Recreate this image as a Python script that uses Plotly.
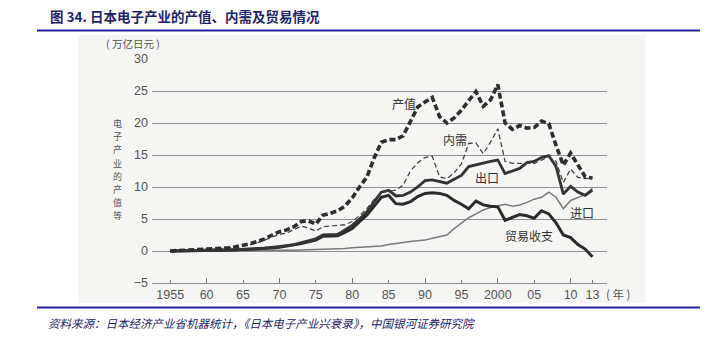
import plotly.graph_objects as go

years = list(range(1955, 2014))

production = [0.0, 0.05, 0.1, 0.15, 0.2, 0.25, 0.3, 0.4, 0.5, 0.65,
              0.85, 1.15, 1.5, 1.9, 2.5, 3.0, 3.3, 3.8, 4.6, 4.7,
              4.2, 5.6, 5.9, 6.3, 7.0, 8.3, 10.0, 11.5, 14.5, 17.0,
              17.4, 17.4, 18.0, 20.2, 22.5, 23.3, 24.0, 21.0, 20.0, 20.8,
              22.0, 23.5, 24.9, 22.6, 23.6, 26.0, 20.0, 19.0, 19.6, 19.2,
              19.3, 20.3, 19.9, 16.5, 13.4, 15.3, 13.5, 11.6, 11.4]

domestic = [0.0, 0.05, 0.1, 0.15, 0.2, 0.25, 0.3, 0.35, 0.45, 0.6,
            0.75, 1.0, 1.3, 1.7, 2.2, 2.6, 2.8, 3.3, 3.9, 3.6,
            3.1, 3.8, 3.9, 4.0, 4.1, 4.6, 5.5, 6.6, 8.0, 9.2,
            9.4, 9.5, 10.3, 12.5, 13.8, 14.6, 14.8, 11.6, 11.3, 12.2,
            13.6, 16.8, 16.9, 15.2, 17.0, 19.1, 14.0, 13.7, 13.7, 13.7,
            13.7, 14.2, 14.7, 14.0, 10.7, 12.8, 11.5, 11.3, 11.4]

exports = [0.0, 0.0, 0.02, 0.03, 0.05, 0.07, 0.1, 0.12, 0.15, 0.2,
           0.25, 0.3, 0.35, 0.45, 0.55, 0.7, 0.85, 1.0, 1.3, 1.6,
           1.9, 2.5, 2.5, 2.6, 3.3, 4.0, 5.0, 6.1, 7.7, 9.2,
           9.5, 8.6, 8.7, 9.2, 10.0, 11.0, 11.1, 10.8, 10.6, 11.2,
           11.8, 13.2, 13.5, 13.7, 14.0, 14.2, 12.1, 12.5, 12.9, 13.8,
           14.0, 14.6, 14.9, 13.2, 8.9, 10.1, 9.2, 8.7, 9.5]

imports = [0.0, 0.0, 0.0, 0.0, 0.01, 0.02, 0.02, 0.03, 0.03, 0.04,
           0.05, 0.05, 0.06, 0.07, 0.08, 0.1, 0.1, 0.12, 0.15, 0.17,
           0.2, 0.22, 0.25, 0.3, 0.4, 0.5, 0.55, 0.6, 0.7, 0.8,
           1.0, 1.2, 1.4, 1.5, 1.6, 1.7, 2.0, 2.2, 2.5, 3.5,
           4.3, 5.2, 5.8, 6.4, 6.8, 7.1, 7.3, 7.0, 7.2, 7.6,
           8.1, 8.4, 9.2, 8.4, 6.6, 7.9, 8.4, 8.8, 9.8]

balance = [0.0, 0.0, 0.02, 0.03, 0.05, 0.06, 0.08, 0.1, 0.13, 0.17,
           0.2, 0.25, 0.3, 0.38, 0.48, 0.6, 0.75, 0.9, 1.15, 1.45,
           1.7, 2.3, 2.3, 2.4, 2.9, 3.5, 4.6, 5.6, 7.0, 8.4,
           8.7, 7.4, 7.3, 7.7, 8.5, 9.0, 9.1, 9.0, 8.7, 7.9,
           7.3, 6.6, 7.8, 7.2, 7.0, 6.9, 4.8, 5.3, 5.7, 5.5,
           5.1, 6.3, 5.8, 4.4, 2.5, 2.1, 1.0, 0.3, -0.9]

series_names = ["产值", "内需", "出口", "进口", "贸易收支"]
label_x = [1987.1, 1994.1, 1998.5, 2011.6, 2004.3]
label_y = [23.1, 17.45, 11.5, 6.0, 2.36]

x_tickvals = [1955, 1960, 1965, 1970, 1975, 1980, 1985, 1990, 1995, 2000, 2005, 2010, 2013]
x_ticktext = ["1955", "60", "65", "70", "75", "80", "85", "90", "95", "2000", "05", "10", "13"]
y_tickvals = [-5, 0, 5, 10, 15, 20, 25, 30]

title_text = "图 34. 日本电子产业的产值、内需及贸易情况"
source_text = "资料来源：日本经济产业省机器统计，《日本电子产业兴衰录》，中国银河证券研究院"
y_unit = "( 万亿日元 )"
y_title = "电子产业的产值等"
x_unit = "( 年 )"

W, H = 726, 341
L, R, T, B = 152, 119, 59, 58
PW, PH = W - L - R, H - T - B


def pxx(px):
    return (px - L) / PW


def pyy(py):
    return (H - B - py) / PH


fig = go.Figure()

CJK = "Noto Sans CJK SC"
SANS = "Liberation Sans, Arial, sans-serif"

fig.add_trace(go.Scatter(x=years, y=imports, mode="lines", name="进口",
                         line=dict(color="#7a7a7a", width=1.5)))
fig.add_trace(go.Scatter(x=years, y=balance, mode="lines", name="贸易收支",
                         line=dict(color="#2b2b2b", width=3.0)))
fig.add_trace(go.Scatter(x=years, y=exports, mode="lines", name="出口",
                         line=dict(color="#333333", width=2.8)))
fig.add_trace(go.Scatter(x=years, y=domestic, mode="lines", name="内需",
                         line=dict(color="#444444", width=1.3, dash="5px,3px")))
fig.add_trace(go.Scatter(x=years, y=production, mode="lines", name="产值",
                         line=dict(color="#2e2e2e", width=3.6, dash="6px,3px")))

annotations = []
for name, lx, ly in zip(series_names, label_x, label_y):
    annotations.append(dict(x=lx, y=ly, xref="x", yref="y", text=name, showarrow=False,
                            font=dict(family=CJK, size=12, color="#333333")))

annotations.append(dict(x=pxx(48), y=pyy(16), xref="paper", yref="paper", text="<b>" + title_text + "</b>",
                        showarrow=False, xanchor="left", yanchor="middle",
                        font=dict(family=CJK, size=13.5, color="#1f2466")))
annotations.append(dict(x=pxx(46), y=pyy(323), xref="paper", yref="paper", text="<i>" + source_text + "</i>",
                        showarrow=False, xanchor="left", yanchor="middle",
                        font=dict(family=CJK, size=11.5, color="#1f2466")))
annotations.append(dict(x=pxx(133), y=pyy(44), xref="paper", yref="paper", text=y_unit,
                        showarrow=False, xanchor="center", yanchor="middle", borderpad=0,
                        font=dict(family=CJK, size=10.5, color="#555555")))
annotations.append(dict(x=pxx(618), y=pyy(294), xref="paper", yref="paper", text=x_unit,
                        showarrow=False, xanchor="center", yanchor="middle",
                        font=dict(family=CJK, size=11.5, color="#555555")))
for i, ch in enumerate(y_title):
    annotations.append(dict(x=pxx(117), y=pyy(123.5 + i * 13.2), xref="paper", yref="paper", text=ch,
                            showarrow=False, xanchor="center", yanchor="middle", borderpad=0,
                            font=dict(family=CJK, size=9, color="#555555")))

shapes = [
    dict(type="rect", xref="paper", yref="paper", x0=pxx(78), x1=pxx(645), y0=pyy(303), y1=pyy(35),
         fillcolor="#f5f5f4", line=dict(width=0), layer="below"),
    dict(type="line", xref="paper", yref="paper", x0=pxx(37), x1=pxx(700), y0=pyy(30.5), y1=pyy(30.5),
         line=dict(color="#22229a", width=2)),
    dict(type="line", xref="paper", yref="paper", x0=pxx(37), x1=pxx(700), y0=pyy(307.5), y1=pyy(307.5),
         line=dict(color="#22229a", width=2)),
]

fig.update_layout(
    width=W, height=H,
    margin=dict(l=L, r=R, t=T, b=B),
    paper_bgcolor="white", plot_bgcolor="rgba(0,0,0,0)",
    showlegend=False,
    annotations=annotations,
    shapes=shapes,
    xaxis=dict(range=[1952.5, 2015.0], tickvals=x_tickvals, ticktext=x_ticktext,
               showgrid=False, zeroline=False, showline=True, linecolor="#8f8f8f", linewidth=1.2,
               ticks="inside", ticklen=3, tickcolor="#777777", tickwidth=1,
               tickfont=dict(family=SANS, size=12.5, color="#555555"),
               minor=dict(tickvals=[1960, 1970, 1980, 1990, 2000, 2010], ticks="inside", ticklen=5,
                          tickcolor="#777777", showgrid=False)),
    yaxis=dict(range=[-5, 30], tickvals=y_tickvals, showgrid=True, gridcolor="#8f8f8f", gridwidth=1.2,
               zeroline=False, showline=False, ticks="", ticklabelstandoff=3,
               tickfont=dict(family=SANS, size=12.5, color="#555555")),
)

fig.write_html("out.html")
